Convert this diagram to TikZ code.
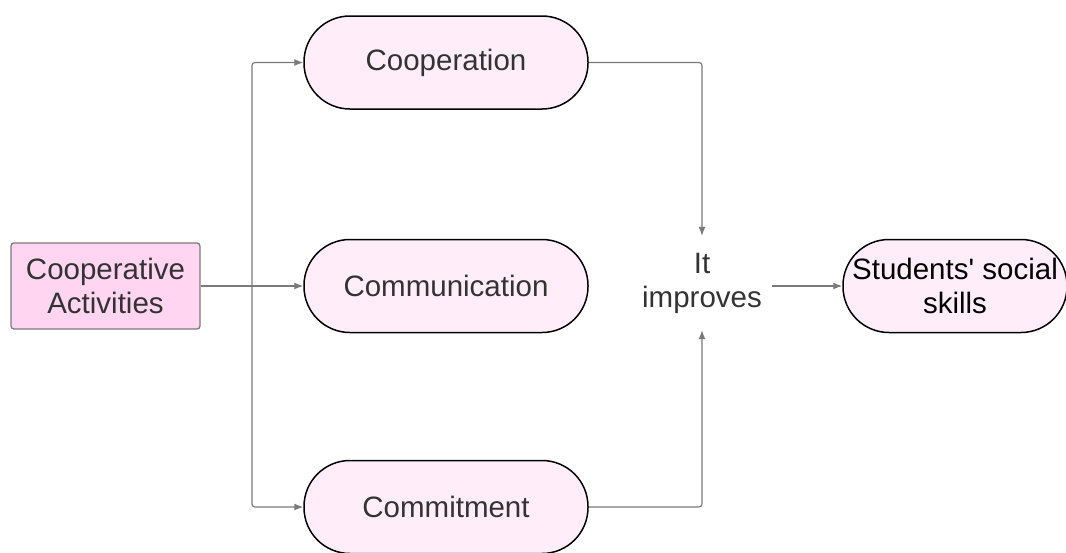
\documentclass[tikz,border=0pt]{standalone}
\usepackage{fontspec}
\setmainfont{Liberation Sans}
\usetikzlibrary{arrows.meta}
\definecolor{boxpink}{HTML}{FFD5F2}
\definecolor{stadpink}{HTML}{FFEEFA}
\definecolor{txt}{HTML}{333333}
\definecolor{linegray}{HTML}{7A7A7A}
\begin{document}
\begin{tikzpicture}[x=1pt,y=-1pt,
  lbl/.style={font=\fontsize{29.5}{34}\selectfont, text=txt, align=center},
  stad/.style={lbl, draw=black, line width=1.5pt, fill=stadpink, rounded corners=46pt,
     minimum width=284pt, minimum height=93pt, inner sep=0pt},
  srcbox/.style={lbl, draw=linegray, line width=1.3pt, fill=boxpink, rounded corners=3pt,
     minimum width=189pt, minimum height=86pt, inner sep=0pt},
  arr/.style={draw=linegray, line width=1.2pt, rounded corners=3pt,
     -{Latex[length=9pt,width=7pt]}}]
\useasboundingbox (0,0) rectangle (1066,552);
\node[srcbox] (ca) at (105.5,286) {Cooperative\\Activities};
\node[stad] (coop) at (446,62.5) {Cooperation};
\node[stad] (comm) at (446,286) {Communication};
\node[stad] (commit) at (446,507) {Commitment};
\node[lbl, minimum height=94pt, inner xsep=10pt, inner ysep=0pt] (imp) at (702,283) {It\\improves};
\node[stad, minimum width=224pt, text=black] (soc) at (955,286) {Students\textquotesingle\ social\\skills};
\coordinate (tr) at (252,286);
\draw[arr] (ca.east) -- (comm.west);
\draw[arr] (tr) |- (coop.west);
\draw[arr] (tr) |- (commit.west);
\draw[arr] (coop.east) -| (imp.north);
\draw[arr] (commit.east) -| (imp.south);
\draw[arr] (imp.east |- soc.west) -- (soc.west);
\end{tikzpicture}
\end{document}
